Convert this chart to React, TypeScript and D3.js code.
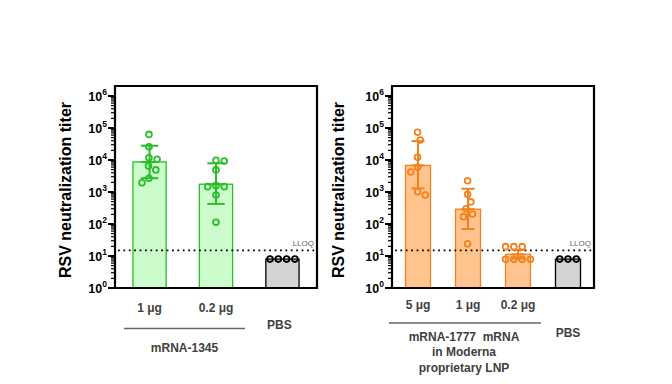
import React from "react";
import * as d3 from "d3";

// ---------- Data ----------
const leftCategories = ["1 μg", "0.2 μg", "PBS"];
const leftPoints = [
  [63000, 26000, 11800, 10500, 6500, 4900, 2700, 1950],
  [9800, 9300, 4900, 1580, 1470, 1470, 810, 113],
  [8, 8, 8, 8],
];
const leftMeans = [8700, 1750, 8];
const leftErrLow = [2700, 425, null];
const leftErrHigh = [28000, 7900, null];

const rightCategories = ["5 μg", "1 μg", "0.2 μg", "PBS"];
const rightPoints = [
  [74000, 42000, 12100, 5900, 4200, 1020, 810],
  [2250, 850, 490, 300, 205, 170, 24],
  [19.6, 19.6, 19.6, 7.9, 7.9, 7.9, 7.9],
  [8, 8, 8],
];
const rightMeans = [6800, 290, 11.3, 8];
const rightErrLow = [1300, 70, 8.3, null];
const rightErrHigh = [39000, 1260, 15.5, null];

const LLOQ = 15;
const yTickExponents = [0, 1, 2, 3, 4, 5, 6];
const yLabel = "RSV neutralization titer";

const GREEN = { fill: "#ccfccc", stroke: "#2bbd2b" };
const ORANGE = { fill: "#ffc48e", stroke: "#f08220" };
const GRAY = { fill: "#d4d4d4", stroke: "#000000" };

// ---------- helpers ----------
function swarm(values: number[], y: (v: number) => number, D: number) {
  const placed: { x: number; y: number }[] = [];
  const order = values.map((v, i) => ({ v, i })).sort((a, b) => b.v - a.v);
  const out: number[] = new Array(values.length).fill(0);
  for (const { v, i } of order) {
    const py = y(v);
    const cands = [0];
    for (const p of placed) {
      const dy = Math.abs(p.y - py);
      if (dy < D) {
        const dx = Math.sqrt(D * D - dy * dy);
        cands.push(p.x + dx, p.x - dx);
      }
    }
    const valid = cands.filter((cx) =>
      placed.every((p) => Math.hypot(p.x - cx, p.y - py) >= D - 1e-6)
    );
    const pos = placed.filter((p) => p.x > 0.01).length;
    const neg = placed.filter((p) => p.x < -0.01).length;
    const prefSign = pos > neg ? -1 : 1;
    valid.sort((a, b) => {
      const d = Math.abs(a) - Math.abs(b);
      if (Math.abs(d) > 1e-6) return d;
      return Math.sign(b) * prefSign - Math.sign(a) * prefSign;
    });
    const x = valid[0];
    placed.push({ x, y: py });
    out[i] = x;
  }
  const ext = d3.extent(out) as [number, number];
  const shift = (ext[0] + ext[1]) / 2;
  return out.map((x) => x - shift);
}

type PanelProps = {
  x0: number;
  x1: number;
  labelX: number;
  categories: string[];
  points: number[][];
  means: number[];
  lo: (number | null)[];
  hi: (number | null)[];
  colors: { fill: string; stroke: string }[];
};

const yScale = d3.scaleLog().domain([1, 1e6]).range([288, 96]);
const frameTop = 86;

function Panel({ x0, x1, labelX, categories, points, means, lo, hi, colors }: PanelProps) {
  const x = d3.scaleBand<string>().domain(categories).range([x0, x1]).paddingInner(0.5).paddingOuter(0.27);
  const bw = x.bandwidth();
  const base = yScale(1);
  const minor: number[] = [];
  for (let e = 0; e < 6; e++) for (let k = 2; k <= 9; k++) minor.push(k * Math.pow(10, e));
  return (
    <g>
      <text
        transform={`translate(${labelX},${(frameTop + base) / 2 + 3}) rotate(-90)`}
        textAnchor="middle"
        dominantBaseline="middle"
        fontFamily="Liberation Sans, Arial, sans-serif"
        fontWeight="bold"
        fontSize={16}
        fill="#000"
      >
        {yLabel}
      </text>
      {categories.map((c, i) => (
        <rect
          key={"b" + c}
          x={x(c)}
          y={yScale(means[i])}
          width={bw}
          height={base - yScale(means[i])}
          fill={colors[i].fill}
          stroke={colors[i].stroke}
          strokeWidth={1.3}
        />
      ))}
      <line
        x1={x0 + 3}
        x2={x1}
        y1={yScale(LLOQ)}
        y2={yScale(LLOQ)}
        stroke="#000"
        strokeWidth={1.8}
        strokeDasharray="1.8,3.6"
      />
      <text
        x={x1 - 3}
        y={yScale(LLOQ) - 4}
        textAnchor="end"
        fontFamily="Liberation Sans, Arial, sans-serif"
        fontSize={8}
        fill="#666"
      >
        LLOQ
      </text>
      {categories.map((c, i) => {
        if (lo[i] == null || hi[i] == null) return null;
        const cx = (x(c) as number) + bw / 2;
        const cap = bw * 0.26;
        const st = colors[i].stroke;
        return (
          <g key={"e" + c} stroke={st} strokeWidth={2}>
            <line x1={cx} x2={cx} y1={yScale(hi[i] as number)} y2={yScale(lo[i] as number)} />
            <line x1={cx - cap} x2={cx + cap} y1={yScale(hi[i] as number)} y2={yScale(hi[i] as number)} />
            <line x1={cx - cap} x2={cx + cap} y1={yScale(lo[i] as number)} y2={yScale(lo[i] as number)} />
            <line x1={cx - cap} x2={cx + cap} y1={yScale(means[i])} y2={yScale(means[i])} />
          </g>
        );
      })}
      {categories.map((c, i) => {
        const cx = (x(c) as number) + bw / 2;
        const offs = swarm(points[i], (v) => yScale(v), 8.3);
        return points[i].map((v, j) => (
          <circle
            key={"p" + c + j}
            cx={cx + offs[j]}
            cy={yScale(v)}
            r={2.9}
            fill="none"
            stroke={colors[i].stroke}
            strokeWidth={1.8}
          />
        ));
      })}
      <path
        d={`M${x0},${frameTop}H${x1}V${base}H${x0}Z`}
        fill="none"
        stroke="#000"
        strokeWidth={2.2}
      />
      {minor.map((v) => (
        <line key={"m" + v} x1={x0 - 4} x2={x0} y1={yScale(v)} y2={yScale(v)} stroke="#000" strokeWidth={1.2} />
      ))}
      {yTickExponents.map((e) => {
        const yy = yScale(Math.pow(10, e));
        return (
          <g key={"t" + e}>
            <line x1={x0 - 7} x2={x0} y1={yy} y2={yy} stroke="#000" strokeWidth={2} />
            <text
              x={x0 - 8}
              y={yy + 4.5}
              textAnchor="end"
              fontFamily="Liberation Sans, Arial, sans-serif"
              fontWeight="bold"
              fontSize={12.5}
              fill="#000"
            >
              10
              <tspan fontSize={8.5} dy={-5.5}>
                {e}
              </tspan>
            </text>
          </g>
        );
      })}
    </g>
  );
}

const catFont = {
  fontFamily: "Liberation Sans, Arial, sans-serif",
  fontWeight: "bold" as const,
  fontSize: 12,
  fill: "#404040",
};

export default function App() {
  const xl = d3.scaleBand<string>().domain(leftCategories).range([115, 317]).paddingInner(0.5).paddingOuter(0.27);
  const xr = d3.scaleBand<string>().domain(rightCategories).range([392, 594]).paddingInner(0.5).paddingOuter(0.27);
  const cl = (c: string) => (xl(c) as number) + xl.bandwidth() / 2;
  const cr = (c: string) => (xr(c) as number) + xr.bandwidth() / 2;
  return (
    <svg width={672} height={384} style={{ position: "absolute", left: 0, top: 0 }}>
      <rect width={672} height={384} fill="#fff" />
      <Panel
        x0={115}
        x1={317}
        labelX={66.5}
        categories={leftCategories}
        points={leftPoints}
        means={leftMeans}
        lo={leftErrLow}
        hi={leftErrHigh}
        colors={[GREEN, GREEN, GRAY]}
      />
      <Panel
        x0={392}
        x1={594}
        labelX={340}
        categories={rightCategories}
        points={rightPoints}
        means={rightMeans}
        lo={rightErrLow}
        hi={rightErrHigh}
        colors={[ORANGE, ORANGE, ORANGE, GRAY]}
      />
      {leftCategories.slice(0, 2).map((c) => (
        <text key={"lx" + c} x={cl(c)} y={312} textAnchor="middle" {...catFont}>
          {c}
        </text>
      ))}
      <line x1={124} x2={245} y1={328.5} y2={328.5} stroke="#666" strokeWidth={1.4} />
      <text x={cl("PBS") - 3} y={329} textAnchor="middle" {...catFont}>
        PBS
      </text>
      <text x={184.5} y={352} textAnchor="middle" {...catFont}>
        mRNA-1345
      </text>
      {rightCategories.slice(0, 3).map((c) => (
        <text key={"rx" + c} x={cr(c)} y={309} textAnchor="middle" {...catFont}>
          {c}
        </text>
      ))}
      <line x1={389} x2={541} y1={323} y2={323} stroke="#666" strokeWidth={1.4} />
      <text x={cr("PBS")} y={337} textAnchor="middle" {...catFont}>
        PBS
      </text>
      {["mRNA-1777  mRNA", "in Moderna", "proprietary LNP"].map((t, i) => (
        <text key={"g" + i} x={464} y={341 + i * 15.3} textAnchor="middle" {...catFont} style={{ whiteSpace: "pre" }}>
          {t}
        </text>
      ))}
    </svg>
  );
}
